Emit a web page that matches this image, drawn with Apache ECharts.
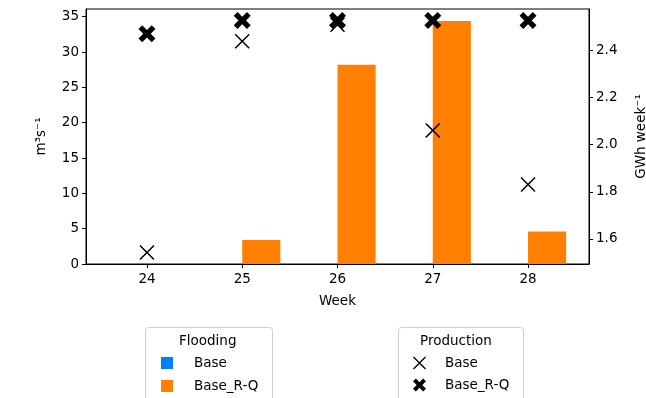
<!DOCTYPE html>
<html>
<head>
<meta charset="utf-8">
<script src="https://cdn.jsdelivr.net/npm/echarts@6/dist/echarts.min.js"></script>
<style>
  html, body { margin: 0; padding: 0; background: #fff; }
  #chart { width: 646px; height: 398px; }
</style>
</head>
<body>
<div id="chart"></div>
<script>
// Weekly flooding (m3/s, bars) and production (GWh/week, markers)
const weeks = [24, 25, 26, 27, 28];
const floodBase = [0, 0, 0, 0, 0];
const floodBaseRQ = [0, 3.4, 28.2, 34.4, 4.6];
const prodBase = [1.542, 2.44, 2.51, 2.061, 1.831];
const prodBaseRQ = [2.472, 2.528, 2.528, 2.528, 2.528];
const leftTicks = [0, 5, 10, 15, 20, 25, 30, 35];
const rightTicks = [1.6, 1.8, 2.0, 2.2, 2.4];

const BAR_W = 0.4;
const BLUE = '#0080ff';
const ORANGE = '#ff8000';
const FONT = 'DejaVu Sans';
const FS = 13.5;

const thinX = 'path://M0,7 L7,0 L50,43 L93,0 L100,7 L57,50 L100,93 L93,100 L50,57 L7,100 L0,93 L43,50 Z';
const boldX = 'path://M0,22 L22,0 L50,28 L78,0 L100,22 L72,50 L100,78 L78,100 L50,72 L22,100 L0,78 L28,50 Z';

function barSeries(name, values, offset, color) {
  return {
    name: name,
    type: 'custom',
    xAxisIndex: 0,
    yAxisIndex: 0,
    itemStyle: { color: color },
    data: weeks.map((w, i) => [w + offset, values[i]]),
    renderItem: function (params, api) {
      const x0 = api.value(0);
      const v = api.value(1);
      const p0 = api.coord([x0, 0]);
      const p1 = api.coord([x0 + BAR_W, v]);
      return {
        type: 'rect',
        shape: { x: p0[0], y: p1[1], width: p1[0] - p0[0], height: p0[1] - p1[1] },
        style: { fill: color }
      };
    },
    z: 2
  };
}

const axisText = { color: '#000', fontFamily: FONT, fontSize: FS };
const blackLine = { show: true, lineStyle: { color: '#000', width: 1 } };

const chart = echarts.init(document.getElementById('chart'), null, { renderer: 'canvas' });
chart.setOption({
  animation: false,
  backgroundColor: '#fff',
  grid: {
    left: 86, right: 57, top: 9, bottom: 134,
    outerBoundsMode: 'none',
    containLabel: false,
    show: true, borderColor: '#000', borderWidth: 1, backgroundColor: 'transparent'
  },
  xAxis: {
    type: 'value',
    min: 23.36, max: 28.64,
    name: 'Week',
    nameLocation: 'middle',
    nameGap: 30,
    nameTextStyle: axisText,
    axisLine: blackLine,
    axisTick: { show: true, length: 4, lineStyle: { color: '#000' }, customValues: weeks },
    axisLabel: Object.assign({ customValues: weeks, margin: 8 }, axisText),
    splitLine: { show: false }
  },
  yAxis: [
    {
      type: 'value',
      position: 'left',
      min: 0, max: 36.09,
      name: 'm³s⁻¹',
      nameLocation: 'middle',
      nameGap: 38,
      nameRotate: 90,
      nameTextStyle: axisText,
      axisLine: blackLine,
      axisTick: { show: true, length: 4, lineStyle: { color: '#000' }, customValues: leftTicks },
      axisLabel: Object.assign({ customValues: leftTicks, margin: 7 }, axisText),
      splitLine: { show: false }
    },
    {
      type: 'value',
      position: 'right',
      min: 1.493, max: 2.577,
      name: 'GWh week⁻¹',
      nameLocation: 'middle',
      nameGap: 45,
      nameRotate: 90,
      nameTextStyle: axisText,
      axisLine: blackLine,
      axisTick: { show: true, length: 4, lineStyle: { color: '#000' }, customValues: rightTicks },
      axisLabel: Object.assign({
        customValues: rightTicks, margin: 7,
        formatter: v => v.toFixed(1)
      }, axisText),
      splitLine: { show: false }
    }
  ],
  legend: [
    {
      orient: 'vertical',
      left: 161, top: 356,
      padding: 0,
      itemWidth: 12, itemHeight: 12, itemGap: 9,
      icon: 'rect',
      data: ['Flooding Base', 'Flooding Base_R-Q'],
      formatter: n => n.replace('Flooding ', ''),
      textStyle: { color: '#000', fontFamily: FONT, fontSize: FS, padding: [0, 0, 0, 16] }
    },
    {
      orient: 'vertical',
      left: 413, top: 356,
      padding: 0,
      itemWidth: 13, itemHeight: 13, itemGap: 8,
      data: [
        { name: 'Production Base', icon: thinX },
        { name: 'Production Base_R-Q', icon: boldX }
      ],
      formatter: n => n.replace('Production ', ''),
      textStyle: { color: '#000', fontFamily: FONT, fontSize: FS, padding: [0, 0, 0, 14] }
    }
  ],
  graphic: [
    { type: 'rect', left: 145, top: 327, shape: { width: 127, height: 80, r: 3 },
      style: { fill: '#fff', stroke: '#d0d0d0', lineWidth: 1 }, z: -1 },
    { type: 'text', left: 179, top: 334,
      style: { text: 'Flooding', fill: '#000', font: FS + 'px "DejaVu Sans"' }, z: 10 },
    { type: 'rect', left: 398, top: 327, shape: { width: 125, height: 80, r: 3 },
      style: { fill: '#fff', stroke: '#d0d0d0', lineWidth: 1 }, z: -1 },
    { type: 'text', left: 420, top: 334,
      style: { text: 'Production', fill: '#000', font: FS + 'px "DejaVu Sans"' }, z: 10 }
  ],
  series: [
    barSeries('Flooding Base', floodBase, -BAR_W, BLUE),
    barSeries('Flooding Base_R-Q', floodBaseRQ, 0, ORANGE),
    {
      name: 'Production Base',
      type: 'scatter',
      xAxisIndex: 0,
      yAxisIndex: 1,
      symbol: thinX,
      symbolSize: 15,
      itemStyle: { color: '#000', opacity: 1 },
      data: weeks.map((w, i) => [w, prodBase[i]]),
      z: 5
    },
    {
      name: 'Production Base_R-Q',
      type: 'scatter',
      xAxisIndex: 0,
      yAxisIndex: 1,
      symbol: boldX,
      symbolSize: 17,
      itemStyle: { color: '#000', opacity: 1 },
      data: weeks.map((w, i) => [w, prodBaseRQ[i]]),
      z: 6
    }
  ]
});
</script>
</body>
</html>
